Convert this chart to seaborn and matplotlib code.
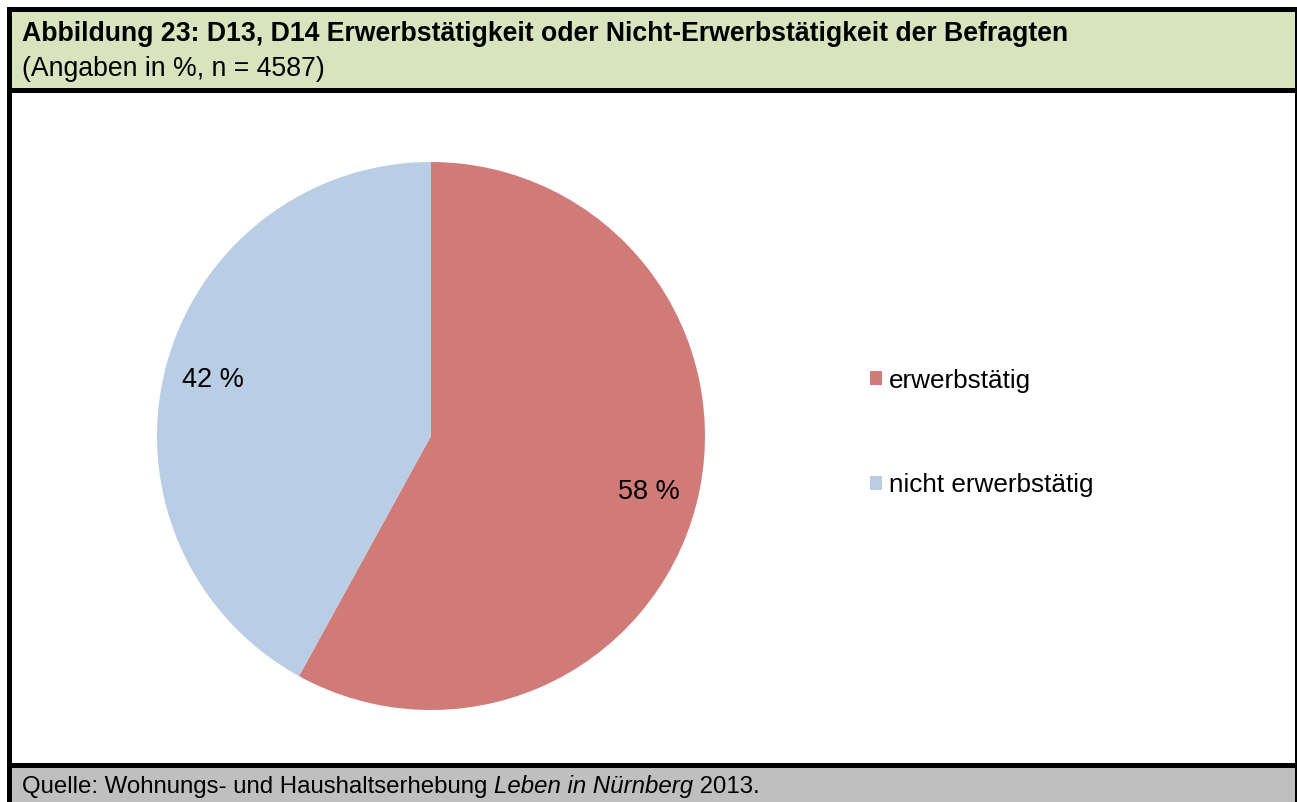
import matplotlib
matplotlib.use("Agg")
import matplotlib.pyplot as plt
import seaborn as sns
from matplotlib.patches import Rectangle

# data
categories = ["erwerbstätig", "nicht erwerbstätig"]
shares = [58, 42]
colors = ["#D07B78", "#B9CDE5"]

title = "Abbildung 23: D13, D14 Erwerbstätigkeit oder Nicht-Erwerbstätigkeit der Befragten"
subtitle = "(Angaben in %, n = 4587)"
source = [("Quelle: Wohnungs- und Haushaltserhebung ", "normal"),
          ("Leben in Nürnberg", "italic"), (" 2013.", "normal")]

sns.set_theme(style="white")
plt.rcParams["font.family"] = ["Liberation Sans", "DejaVu Sans"]
plt.rcParams["text.color"] = "black"

W, H = 1297, 802
fig = plt.figure(figsize=(W / 100, H / 100), dpi=100)
fig.patch.set_facecolor("white")


def px(x0, y0, x1, y1):
    # pixel box (top-left origin) -> figure fraction rectangle
    return (x0 / W, 1 - y1 / H, (x1 - x0) / W, (y1 - y0) / H)


def box(x0, y0, x1, y1, color):
    l, b, w, h = px(x0, y0, x1, y1)
    fig.add_artist(Rectangle((l, b), w, h, transform=fig.transFigure,
                             facecolor=color, edgecolor="none", zorder=0))


# header, footer and black frame
box(7, 7, W, 93, "black")
box(12, 12, 1295, 88, "#D7E4BD")
box(7, 763, W, H, "black")
box(12, 768, 1295, H, "#BFBFBF")
box(7, 7, 12, H, "black")
box(1295, 7, W, H, "black")

fig.text(22 / W, 1 - 34 / H, title, fontsize=19.2, fontweight="bold",
         va="center", ha="left")
fig.text(22 / W, 1 - 69 / H, subtitle, fontsize=19.2, va="center", ha="left")

# pie
ax = fig.add_axes(px(157, 162, 705, 710))
wedges, _, autotexts = ax.pie(
    shares, colors=colors, startangle=90, counterclock=False,
    autopct=lambda p: f"{p:.0f} %", pctdistance=0.82,
    textprops={"fontsize": 19.5, "color": "black"},
    wedgeprops={"linewidth": 0},
)
ax.set_xlim(-1, 1)
ax.set_ylim(-1, 1)
ax.set_aspect("equal")
ax.axis("off")

fig.legend(wedges, categories, loc="center left",
           bbox_to_anchor=(846 / W, 1 - 433 / H), frameon=False,
           fontsize=18.8, handlelength=0.46, handleheight=0.46,
           handletextpad=0.3, labelspacing=3.1)

# footer with italic part
renderer = fig.canvas.get_renderer()
x = 22
for s, style in source:
    tx = fig.text(x / W, 1 - 787 / H, s, fontsize=17.3, style=style,
                  va="center", ha="left")
    x += tx.get_window_extent(renderer).width

fig.savefig("out.png", dpi=100)
